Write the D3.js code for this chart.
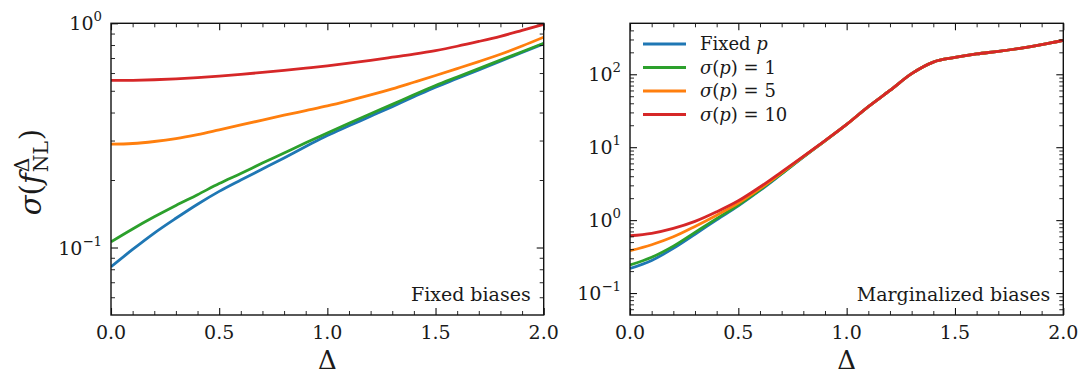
<!DOCTYPE html>
<html>
<head>
<meta charset="utf-8">
<script src="https://cdn.jsdelivr.net/npm/d3@7"></script>
<style>
  body { margin: 0; background: #fff; }
  text { font-family: "DejaVu Serif", "Liberation Serif", serif; fill: #1a1a1a; }
</style>
</head>
<body>
<svg id="chart" width="1080" height="374"></svg>
<script>
// Delta grid (x values)
const delta = [0.0, 0.1, 0.2, 0.3, 0.4, 0.5, 0.6, 0.7, 0.8, 0.9, 1.0,
               1.1, 1.2, 1.3, 1.4, 1.5, 1.6, 1.7, 1.8, 1.9, 2.0];

// left panel: fixed biases
const leftFixedP  = [0.082, 0.098, 0.116, 0.135, 0.156, 0.178, 0.200, 0.224, 0.251, 0.282, 0.316,
                     0.349, 0.385, 0.425, 0.470, 0.519, 0.567, 0.620, 0.678, 0.741, 0.810];
const leftSigma1  = [0.106, 0.121, 0.137, 0.154, 0.172, 0.193, 0.214, 0.238, 0.264, 0.293, 0.324,
                     0.358, 0.395, 0.435, 0.480, 0.528, 0.576, 0.628, 0.685, 0.747, 0.815];
const leftSigma5  = [0.289, 0.291, 0.297, 0.306, 0.319, 0.335, 0.352, 0.370, 0.389, 0.408, 0.428,
                     0.452, 0.479, 0.510, 0.546, 0.585, 0.628, 0.675, 0.728, 0.792, 0.867];
const leftSigma10 = [0.556, 0.557, 0.560, 0.565, 0.572, 0.581, 0.592, 0.604, 0.617, 0.631, 0.646,
                     0.664, 0.684, 0.706, 0.729, 0.756, 0.790, 0.830, 0.875, 0.930, 0.990];

// right panel: marginalized biases
const rightFixedP  = [0.217, 0.28, 0.41, 0.64, 1.01, 1.57, 2.55, 4.3, 7.3, 12.2, 20.5,
                      36, 60, 102, 147, 170, 190, 206, 227, 255, 292];
const rightSigma1  = [0.243, 0.31, 0.44, 0.68, 1.05, 1.61, 2.6, 4.35, 7.35, 12.2, 20.5,
                      36, 60, 102, 147, 170, 190, 206, 227, 255, 292];
const rightSigma5  = [0.38, 0.46, 0.59, 0.82, 1.17, 1.71, 2.7, 4.45, 7.4, 12.25, 20.5,
                      36, 60, 102, 147, 170, 190, 206, 227, 255, 292];
const rightSigma10 = [0.61, 0.66, 0.77, 0.96, 1.30, 1.84, 2.85, 4.6, 7.5, 12.3, 20.5,
                      36, 60, 102, 147, 170, 190, 206, 227, 255, 292];

const seriesNames = ["Fixed p", "σ(p) = 1", "σ(p) = 5", "σ(p) = 10"];
const colors = ["#1f77b4", "#2ca02c", "#ff7f0e", "#d62728"];

const xMajor = [0, 0.5, 1.0, 1.5, 2.0];
const xMinor = [0.1, 0.2, 0.3, 0.4, 0.6, 0.7, 0.8, 0.9, 1.1, 1.2, 1.3, 1.4, 1.6, 1.7, 1.8, 1.9];

const tickFs = 19;
const svg = d3.select("#chart");

function minorLog(lo, hi) {
  const out = [];
  for (let e = -3; e <= 3; e++)
    for (let m = 2; m <= 9; m++) {
      const v = m * Math.pow(10, e);
      if (v > lo * 1.0001 && v < hi * 0.9999) out.push(v);
    }
  return out;
}

function drawPanel({x0, x1, y0, y1, yDomain, yMajorExp, series, note}) {
  const x = d3.scaleLinear().domain([0, 2]).range([x0, x1]);
  const y = d3.scaleLog().domain(yDomain).range([y1, y0]);
  const g = svg.append("g");

  // clip for lines
  const id = "clip" + Math.round(x0);
  svg.append("clipPath").attr("id", id)
    .append("rect").attr("x", x0).attr("y", y0).attr("width", x1 - x0).attr("height", y1 - y0);

  const line = d3.line().curve(d3.curveMonotoneX).x((d, i) => x(delta[i])).y(d => y(d));
  g.append("g").attr("clip-path", `url(#${id})`)
    .selectAll("path")
    .data(series)
    .join("path")
    .attr("fill", "none")
    .attr("stroke", (d, i) => colors[i])
    .attr("stroke-width", 2.8)
    .attr("stroke-linejoin", "round")
    .attr("d", d => line(d));

  const yMajor = yMajorExp.map(e => Math.pow(10, e));
  const yMinor = minorLog(yDomain[0], yDomain[1]);

  // ticks, pointing in, on all four sides
  const tickGroups = [
    [d3.axisBottom(x).tickValues(xMajor), `translate(0,${y1})`, -7, 1.1],
    [d3.axisBottom(x).tickValues(xMinor), `translate(0,${y1})`, -4, 0.9],
    [d3.axisTop(x).tickValues(xMajor), `translate(0,${y0})`, -7, 1.1],
    [d3.axisTop(x).tickValues(xMinor), `translate(0,${y0})`, -4, 0.9],
    [d3.axisLeft(y).tickValues(yMajor), `translate(${x0},0)`, -7, 1.1],
    [d3.axisLeft(y).tickValues(yMinor), `translate(${x0},0)`, -4, 0.9],
    [d3.axisRight(y).tickValues(yMajor), `translate(${x1},0)`, -7, 1.1],
    [d3.axisRight(y).tickValues(yMinor), `translate(${x1},0)`, -4, 0.9]
  ];
  tickGroups.forEach(([ax, tr, len, w]) => {
    const a = g.append("g").attr("transform", tr)
      .call(ax.tickSizeInner(len).tickSizeOuter(0).tickFormat(""));
    a.select(".domain").remove();
    a.selectAll("line").attr("stroke", "#111").attr("stroke-width", w);
  });

  // frame
  g.append("rect")
    .attr("x", x0).attr("y", y0).attr("width", x1 - x0).attr("height", y1 - y0)
    .attr("fill", "none").attr("stroke", "#111").attr("stroke-width", 1.4);

  // x tick labels
  g.selectAll(".xl").data(xMajor).join("text")
    .attr("x", d => x(d)).attr("y", y1 + 24)
    .attr("text-anchor", "middle").attr("font-size", tickFs)
    .text(d => d.toFixed(1));

  // y tick labels 10^n
  yMajorExp.forEach(e => {
    const t = g.append("text")
      .attr("x", x0 - 9).attr("y", y(Math.pow(10, e)) + 7)
      .attr("text-anchor", "end").attr("font-size", tickFs);
    t.append("tspan").text("10");
    t.append("tspan").attr("dy", -9).attr("font-size", tickFs * 0.7)
      .text(e < 0 ? "\u2212" + (-e) : String(e));
  });

  // x axis label
  g.append("text")
    .attr("x", (x0 + x1) / 2).attr("y", y1 + 54)
    .attr("text-anchor", "middle").attr("font-size", 26)
    .text("Δ");

  // panel note
  g.append("text")
    .attr("x", x1 - 13).attr("y", y1 - 14)
    .attr("text-anchor", "end").attr("font-size", 19)
    .text(note);

  return {x, y, g};
}

drawPanel({
  x0: 111, x1: 543.7, y0: 23.3, y1: 315,
  yDomain: [0.05, 1], yMajorExp: [-1, 0],
  series: [leftFixedP, leftSigma1, leftSigma5, leftSigma10],
  note: "Fixed biases"
});

drawPanel({
  x0: 630, x1: 1063.3, y0: 23.3, y1: 315,
  yDomain: [0.05, 500], yMajorExp: [-1, 0, 1, 2],
  series: [rightFixedP, rightSigma1, rightSigma5, rightSigma10],
  note: "Marginalized biases"
});

// legend (right panel, upper left)
const legend = svg.append("g").attr("transform", "translate(643,44)");
seriesNames.forEach((name, i) => {
  const row = legend.append("g").attr("transform", `translate(0,${i * 23.5})`);
  row.append("line").attr("x1", 0).attr("x2", 43).attr("y1", 0).attr("y2", 0)
    .attr("stroke", colors[i]).attr("stroke-width", 2.8);
  const t = row.append("text").attr("x", 57).attr("y", 6).attr("font-size", 18);
  if (i === 0) {
    t.append("tspan").text("Fixed ");
    t.append("tspan").attr("font-style", "italic").text("p");
  } else {
    const val = name.split("= ")[1];
    t.append("tspan").attr("font-style", "italic").text("σ");
    t.append("tspan").text("(");
    t.append("tspan").attr("font-style", "italic").text("p");
    t.append("tspan").text(") = " + val);
  }
});

// y axis label: sigma(f^Delta_NL)
const ylFs = 29;
function measure(str, fs, italic) {
  const t = svg.append("text").attr("font-size", fs)
    .attr("font-style", italic ? "italic" : null).text(str);
  const w = t.node().getComputedTextLength();
  t.remove();
  return w;
}
const wDelta = measure("Δ", ylFs * 0.7, false);
const yl = svg.append("text")
  .attr("transform", "translate(41,172) rotate(-90)")
  .attr("text-anchor", "middle").attr("font-size", ylFs);
yl.append("tspan").attr("font-style", "italic").text("σ");
yl.append("tspan").text("(");
yl.append("tspan").attr("font-style", "italic").text("f");
yl.append("tspan").attr("font-size", ylFs * 0.7).attr("dy", -12).attr("dx", 1).text("Δ");
yl.append("tspan").attr("font-size", ylFs * 0.7).attr("dy", 19).attr("dx", -wDelta).text("NL");
yl.append("tspan").attr("dy", -7).attr("dx", 1).text(")");
</script>
</body>
</html>
